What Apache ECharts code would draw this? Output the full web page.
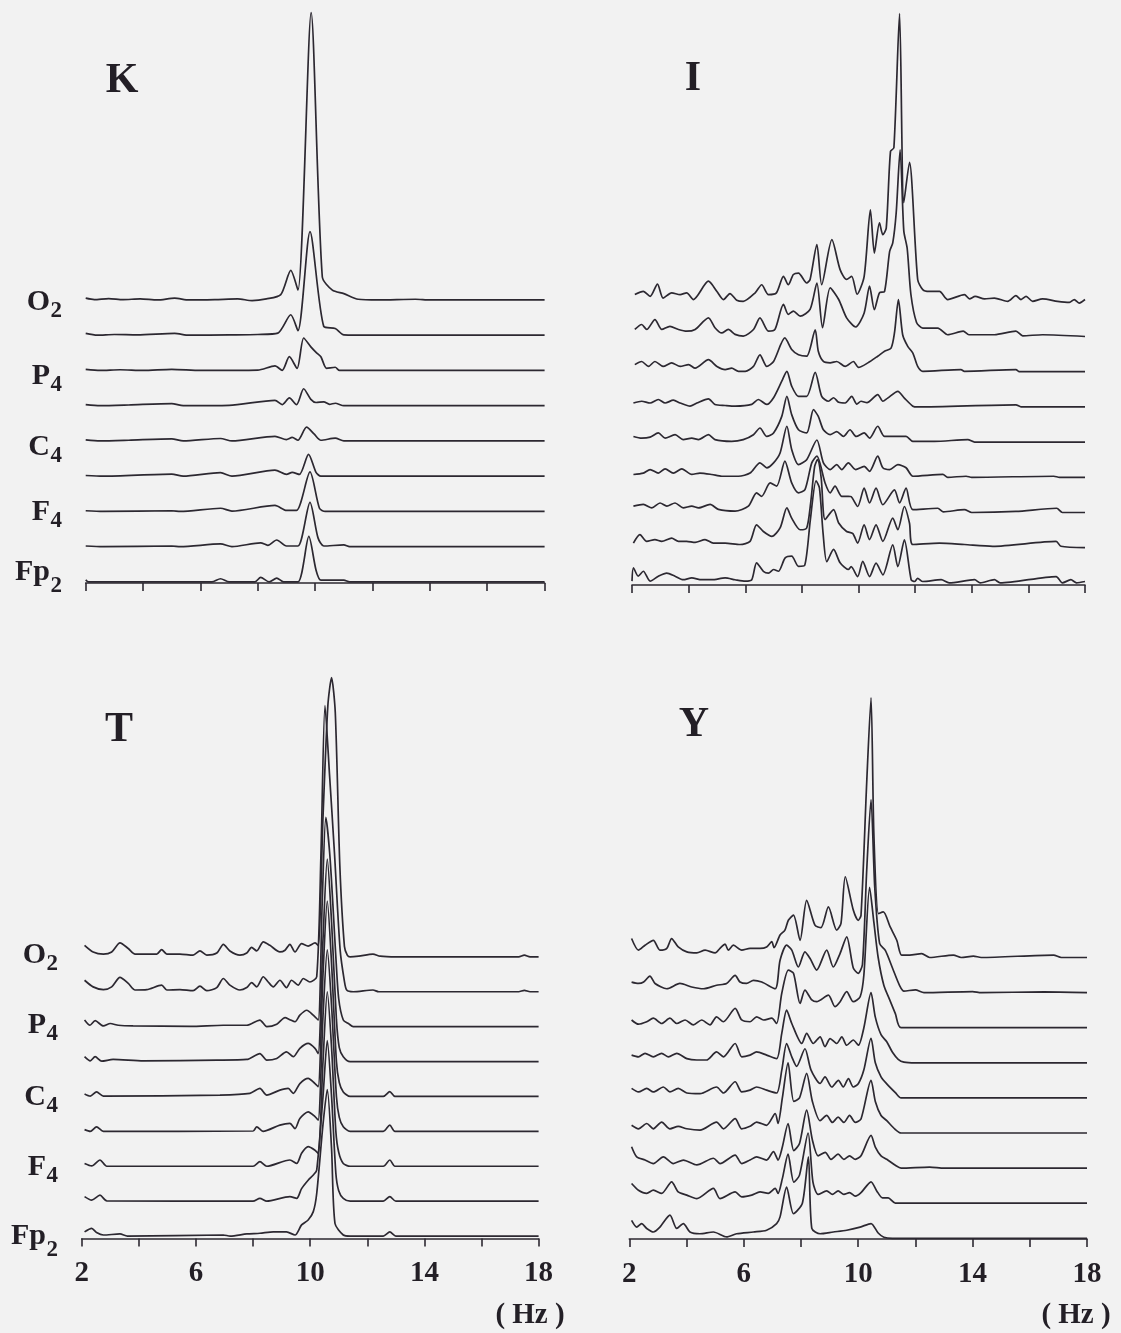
<!DOCTYPE html>
<html>
<head>
<meta charset="utf-8">
<script src="https://cdn.jsdelivr.net/npm/echarts/dist/echarts.min.js"></script>
<style>
  html, body { margin: 0; padding: 0; background: #f2f2f2; }
  #chart { width: 1121px; height: 1333px; }
</style>
</head>
<body>
<div id="chart"></div>
<script>
// Frequency axis (Hz)
const hzMin = 2, hzMax = 18, hzStep = 2;
const hzTickLabels = ['2', '6', '10', '14', '18'];
const hzUnit = '( Hz )';

// Panels (subjects) and electrode labels, top row of each stack first
const panelNames = ['K', 'I', 'T', 'Y'];
const channelMain = ['O', 'P', 'C', 'F', 'Fp'];
const channelSub = ['2', '4', '4', '4', '2'];
const rowGap = 10;            // power units between stacked baselines

// Power spectra: [frequency Hz, relative power]; row 0 = O2 ... row 8 = Fp2
// ---- subject K ----
const K0 = [[2,0.5],[2.3,0.1],[2.8,0.4],[3.3,0.1],[3.9,0.3],[4.5,0],[5.1,0.5],[5.6,0],[6.5,0.1],[7.3,0.3],[7.8,-0.2],[8.3,0.3],[8.8,1.5],[9.15,8.4],[9.4,2.8],[9.86,81.5],[10.25,6.5],[10.6,2.8],[11.0,1.8],[11.5,0.2],[12.2,0],[13.5,0.2],[14,0],[18,0]];
const K1 = [[2,0.5],[2.4,0],[3.0,0.2],[3.8,0.1],[5.1,0.5],[5.6,0],[7,0.1],[8,0.2],[8.7,0.6],[9.15,5.8],[9.4,1.3],[9.82,29.4],[10.3,2.5],[10.7,1.9],[11.0,0.1],[12,0],[18,0]];
const K2 = [[2,0.3],[2.5,0],[3.2,0.2],[4,0],[5,0.3],[6,0],[8,0.1],[8.6,1.3],[8.85,0],[9.1,3.9],[9.37,0.6],[9.6,9.2],[9.85,6.7],[10.05,5.0],[10.2,3.9],[10.4,0.6],[10.7,0.9],[10.85,0],[18,0]];
const K3 = [[2,0.3],[2.5,0],[3.5,0.2],[5.0,0.6],[5.4,0],[7,0.1],[8.6,1.5],[8.85,0.3],[9.1,2.2],[9.35,0.3],[9.6,4.8],[9.85,1.8],[10.03,0.9],[10.3,1.1],[10.5,0.4],[10.7,0.7],[11.0,0],[18,0]];
const K4 = [[2,0.3],[2.5,0],[3.5,0.2],[5.0,0.6],[5.4,0],[6.7,0.7],[7.1,0],[8.6,1.3],[9.0,0.4],[9.2,1.0],[9.4,0.2],[9.7,3.9],[9.97,1.9],[10.2,0.2],[10.7,0.8],[11.0,0],[18,0]];
const K5 = [[2,0.2],[2.6,0],[5.0,0.6],[5.4,0],[6.7,1.0],[7.1,0],[8.6,1.7],[9.0,0.5],[9.2,1.1],[9.45,0.5],[9.77,6.2],[10.03,1.1],[10.2,0],[18,0]];
const K6 = [[2,0.2],[2.6,0],[5,0.2],[5.3,0],[6.7,0.9],[7.1,0.1],[8.6,1.7],[9.0,0.3],[9.35,0.3],[9.82,11.2],[10.15,0.9],[10.35,0],[18,0]];
const K7 = [[2,0.2],[2.6,0],[5,0.2],[5.3,0],[6.7,0.8],[7.1,0],[8.1,1.1],[8.35,0.4],[8.66,1.9],[9.0,0.2],[9.4,0.2],[9.82,12.6],[10.1,2.5],[10.3,0.2],[11.0,0.5],[11.2,0],[18,0]];
const K8 = [[2,0.6],[2.1,0],[6.4,0],[6.7,0.9],[7.0,0],[7.9,0],[8.1,1.3],[8.4,0],[8.66,1.1],[8.9,0],[9.4,0],[9.78,12.9],[10.03,3.4],[10.2,0.5],[11.0,0.5],[11.2,0],[18,0]];

// ---- subject I ----
const I0 = [[2.1,1.9],[2.4,2.8],[2.64,1.4],[2.9,4.9],[3.1,0.9],[3.4,2.4],[3.7,1.9],[3.93,2.4],[4.17,0.5],[4.7,5.7],[5.0,2.8],[5.23,0.5],[5.46,2.2],[5.7,0.3],[5.93,0],[6.35,2.4],[6.58,4.7],[6.82,1.9],[7.1,2.4],[7.35,7.1],[7.52,4.7],[7.7,7.6],[7.88,8.0],[8.17,5.2],[8.29,6.2],[8.53,16.1],[8.7,4.7],[9.06,17.5],[9.35,9.0],[9.58,6.2],[9.76,7.1],[9.95,2.0],[10.2,7.1],[10.42,26],[10.56,13.7],[10.74,22.3],[10.86,18.9],[10.98,20.8],[11.13,42.6],[11.25,43.6],[11.45,81.7],[11.6,28],[11.8,39.5],[12.09,6.2],[12.27,3.3],[12.5,2.8],[12.86,2.8],[13.15,0.5],[13.74,1.9],[13.92,0.7],[14.12,1.4],[14.45,0.7],[14.8,0.9],[15.27,0],[15.56,1.6],[15.74,0.5],[15.92,1.4],[16.15,0],[16.5,0.7],[17.03,0],[17.45,-0.3],[17.62,0.5],[17.8,-0.5],[18,0.5]];
const I1 = [[2.1,2.0],[2.34,3.4],[2.52,2.0],[2.81,4.8],[3.05,2.0],[3.34,2.9],[3.64,2.0],[3.93,1.5],[4.23,2.0],[4.7,5.3],[4.93,2.5],[5.17,1.0],[5.4,2.0],[5.64,0.6],[5.93,0.1],[6.29,2.0],[6.52,5.3],[6.82,1.5],[7.05,2.0],[7.35,9.1],[7.52,6.3],[7.7,7.2],[7.94,5.8],[8.29,7.7],[8.53,15.2],[8.73,2.5],[9.0,13.8],[9.3,10.5],[9.58,5.3],[9.9,2.7],[10.2,6.7],[10.39,14.3],[10.56,7.6],[10.74,12.4],[10.92,12.8],[11.1,24.2],[11.21,26.6],[11.33,35],[11.47,53],[11.6,30],[11.72,25],[11.85,12],[12.05,4],[12.27,2.4],[12.8,2.4],[13.15,0.5],[13.7,1.5],[13.9,0.5],[14.8,0.5],[15.56,1.5],[15.8,0.2],[16.5,0.5],[18,0]];
const I2 = [[2.1,2.0],[2.34,2.9],[2.58,1.5],[2.81,2.9],[3.1,1.5],[3.4,2.5],[3.7,1.5],[4.0,2.0],[4.23,1.0],[4.7,3.4],[5.0,1.5],[5.29,0.6],[5.52,1.0],[5.76,0.1],[6.0,0.1],[6.29,1.5],[6.52,4.8],[6.76,1.5],[7.0,2.9],[7.4,9.6],[7.64,6.3],[7.88,4.8],[8.17,4.4],[8.47,11.9],[8.58,5.8],[8.76,2.9],[9.0,2.5],[9.23,2.9],[9.53,1.5],[9.82,2.9],[10.0,1.2],[10.33,2.5],[10.68,4.4],[10.92,5.8],[11.15,6.7],[11.27,11],[11.41,20.5],[11.56,10.5],[11.74,7.2],[11.92,5.3],[12.09,1.5],[12.27,0.1],[13.62,0.6],[13.74,0.1],[15.56,0.6],[15.68,0],[18,0]];
const I3 = [[2.05,1.1],[2.34,1.6],[2.64,1.1],[2.93,2.1],[3.17,1.1],[3.46,1.9],[3.7,1.1],[4.05,0.2],[4.29,1.1],[4.7,2.3],[4.93,0.7],[5.29,0.4],[5.64,0.2],[6.23,0.7],[6.46,2.1],[6.76,0.7],[7.0,2.6],[7.29,7.3],[7.47,10.1],[7.64,5.9],[7.88,3.0],[8.17,3.0],[8.47,9.8],[8.7,3.0],[8.94,1.6],[9.12,2.6],[9.3,1.3],[9.53,1.1],[9.76,3.0],[9.94,0.8],[10.09,1.6],[10.3,1.2],[10.68,3.5],[10.86,1.6],[11.03,2.5],[11.39,4.4],[11.62,2.5],[11.92,0.2],[12.09,0],[15.56,0.6],[15.74,0],[18,0]];
const I4 = [[2.05,1.6],[2.34,1.1],[2.64,1.4],[2.93,2.6],[3.17,1.1],[3.52,2.1],[3.81,0.7],[4.11,1.1],[4.35,0.7],[4.7,2.1],[4.93,0.7],[5.52,0.2],[5.93,0.7],[6.29,2.1],[6.52,4.0],[6.76,1.6],[7.0,2.6],[7.29,7.3],[7.47,13],[7.64,7.8],[7.88,3.5],[8.17,2.6],[8.41,9.2],[8.58,7.3],[8.76,3.5],[9.0,2.1],[9.23,3.0],[9.47,1.6],[9.7,3.5],[9.92,1.6],[10.2,2.6],[10.39,1.1],[10.68,4.5],[10.92,1.6],[11.27,1.6],[11.68,1.6],[11.92,0.2],[12.68,0.2],[13.86,0.7],[14.1,0],[18,0]];
const I5 = [[2.05,0.8],[2.4,1.2],[2.64,2.2],[2.93,1.2],[3.17,2.4],[3.46,1.2],[3.76,2.4],[4.11,0.8],[4.4,1.2],[4.82,0.8],[5.17,0.3],[5.76,0.3],[6.17,1.2],[6.52,4.1],[6.76,2.7],[7.0,4.1],[7.23,6.9],[7.47,14.5],[7.64,7.9],[7.88,3.6],[8.17,5.0],[8.53,10.6],[8.76,4.1],[9.0,2.2],[9.23,3.6],[9.41,2.2],[9.64,4.1],[9.9,2.2],[10.2,3.1],[10.39,1.7],[10.68,6.0],[10.86,2.7],[11.1,2.2],[11.39,3.6],[11.68,2.7],[11.92,0.3],[12.98,0.8],[13.15,0],[13.8,0.3],[14,0],[16.9,0.3],[17.1,0],[18,0]];
const I6 = [[2.05,1.8],[2.4,2.3],[2.7,1.3],[2.99,2.7],[3.23,1.8],[3.52,2.7],[3.81,1.3],[4.11,1.8],[4.35,1.3],[4.76,2.3],[5.05,0.9],[5.64,0.4],[6.11,1.8],[6.4,5.6],[6.58,4.6],[6.88,8.4],[7.11,7.5],[7.4,14.6],[7.64,8.4],[7.88,5.6],[8.11,6.5],[8.35,14.1],[8.53,16],[8.82,8.4],[9.0,5.6],[9.17,7.5],[9.41,4.6],[9.64,4.6],[9.74,4.5],[9.97,1.7],[10.2,6.9],[10.39,2.7],[10.62,6.9],[10.86,2.2],[11.27,6.4],[11.45,2.7],[11.68,6.9],[11.92,0.8],[12.8,1.2],[13.0,0.2],[13.74,0.8],[14,0],[15.56,0.3],[17.0,1.2],[17.2,0],[18,0]];
const I7 = [[2.05,1.3],[2.28,3.7],[2.52,1.8],[2.81,2.3],[3.05,1.8],[3.4,2.7],[3.64,1.8],[3.93,1.8],[4.23,1.5],[4.58,2.3],[4.87,1.3],[5.29,1.3],[5.82,0.9],[6.17,1.8],[6.4,6.5],[6.64,4.6],[6.94,3.2],[7.23,5.6],[7.47,11.3],[7.64,8.4],[7.94,5.1],[8.17,5.6],[8.3,12],[8.45,23],[8.55,25],[8.68,20],[8.82,8],[9.12,10.8],[9.3,7.0],[9.58,4.6],[9.8,4.0],[9.97,1.3],[10.2,6.5],[10.39,2.3],[10.62,6.5],[10.86,1.8],[11.21,8.4],[11.39,5.1],[11.62,11.7],[11.8,7.0],[11.92,0.9],[12.86,1.3],[13.74,0.9],[14.74,0.4],[16.98,1.8],[17.15,0.4],[18,0]];
const I8 = [[2.0,0.5],[2.05,4.3],[2.22,1.9],[2.4,3.3],[2.64,0.5],[2.93,1.9],[3.23,2.8],[3.52,1.9],[3.81,0.9],[4.11,1.4],[4.46,0.9],[4.82,0.9],[5.29,1.4],[5.64,0.9],[6.0,0.5],[6.23,0.9],[6.4,5.7],[6.64,3.3],[6.82,2.8],[7.0,3.8],[7.17,3.3],[7.41,7.1],[7.64,7.6],[7.88,4.7],[8.1,5],[8.3,18],[8.5,29],[8.62,27],[8.75,14],[8.88,6],[9.12,9.5],[9.35,5.7],[9.64,3.8],[9.74,4.6],[9.97,1.8],[10.15,6.1],[10.39,1.8],[10.62,5.6],[10.86,2.3],[11.21,10.8],[11.39,4.6],[11.62,12.2],[11.86,0.9],[11.98,0.4],[12.09,1.3],[12.27,0.4],[12.92,0.9],[13.2,0],[14.1,0.9],[14.3,0],[14.8,0.9],[15,0],[16.98,1.8],[17.2,0],[17.5,0.9],[17.7,0],[18,0.4]];

// ---- subject T ----
const T0 = [[2.1,3.3],[2.4,1.4],[2.76,0.8],[3.05,1.4],[3.34,4.0],[3.63,2.4],[3.87,0.8],[4.28,0.8],[4.63,0.8],[4.8,2.1],[4.98,0.8],[5.44,0.8],[5.9,0.5],[6.14,1.7],[6.38,0.5],[6.73,1.1],[6.96,3.6],[7.19,1.7],[7.54,0.5],[7.78,1.1],[7.95,2.7],[8.13,1.7],[8.36,4.3],[8.59,3.3],[8.94,1.4],[9.12,1.9],[9.29,3.6],[9.47,1.4],[9.7,3.8],[9.93,3.1],[10.17,4.0],[10.28,3.3],[10.45,40],[10.62,72],[10.75,80],[10.88,70],[11.04,26],[11.2,3],[11.3,0.5],[11.4,0],[11.7,0.2],[12.2,0.8],[12.45,0.2],[13,0],[17.3,0],[17.5,0.5],[17.7,0],[18,0]];
const T1 = [[2.1,3.3],[2.4,1.4],[2.76,0.6],[3.05,1.4],[3.34,4.1],[3.63,2.4],[3.87,0.5],[4.28,0.6],[4.8,1.9],[4.98,0.5],[5.44,0.6],[5.9,0.3],[6.14,1.6],[6.38,0.3],[6.73,1.2],[6.96,3.8],[7.19,1.9],[7.54,0.5],[7.78,1.2],[7.95,2.6],[8.13,1.4],[8.36,4.3],[8.53,2.8],[8.71,1.4],[8.94,3.3],[9.17,1.2],[9.35,3.3],[9.58,1.9],[9.76,3.8],[9.99,2.8],[10.23,4.3],[10.38,40],[10.52,82],[10.68,62],[10.85,40],[11.05,12],[11.2,3],[11.28,0.5],[11.51,0],[12.2,0.5],[12.4,0],[17.3,0],[17.5,0.4],[17.7,0],[18,0]];
const T2 = [[2.1,1.9],[2.29,0.4],[2.47,1.7],[2.76,0.2],[3.0,0.9],[3.28,0.4],[3.8,0.2],[5.8,0.1],[6.96,0.4],[7.78,0.4],[8.24,1.9],[8.48,0],[8.83,0.7],[9.12,2.6],[9.29,2.0],[9.47,1.4],[9.64,3.3],[9.88,4.7],[10.11,3.3],[10.28,1.9],[10.42,35],[10.55,60],[10.7,48],[10.9,20],[11.0,8],[11.16,1.9],[11.34,0.9],[11.51,0],[18,0]];
const T3 = [[2.1,1.4],[2.3,0.2],[2.47,1.4],[2.7,0.1],[3.1,0.6],[4.16,0.2],[6.73,0.4],[7.78,0.6],[8.24,2.3],[8.48,0.4],[8.83,0.9],[9.17,2.8],[9.41,1.4],[9.64,3.8],[9.93,5.2],[10.17,3.8],[10.28,2.3],[10.45,35],[10.6,58],[10.75,40],[10.92,12],[11.02,4],[11.16,1.4],[11.4,0],[18,0]];
const T4 = [[2.1,0.7],[2.3,0.1],[2.52,1.3],[2.76,0.1],[6.84,0.4],[7.89,0.9],[8.24,2.3],[8.48,0.4],[8.94,1.8],[9.23,2.3],[9.41,0.9],[9.64,3.7],[9.93,5.2],[10.17,3.7],[10.28,2.8],[10.45,35],[10.6,56],[10.75,38],[10.92,10],[11.02,4],[11.16,1.3],[11.4,0],[12.56,0],[12.79,1.4],[12.97,0],[18,0]];
const T5 = [[2.1,0.5],[2.3,0],[2.52,1.3],[2.76,0],[8.0,0.1],[8.13,1.3],[8.35,0],[8.94,1.8],[9.29,2.3],[9.47,0.8],[9.64,3.7],[9.93,5.6],[10.17,4.2],[10.28,3.2],[10.45,33],[10.6,52],[10.75,36],[10.92,10],[11.02,4],[11.16,1.3],[11.4,0],[12.56,0],[12.79,1.8],[12.97,0],[18,0]];
const T6 = [[2.1,0.8],[2.35,0.1],[2.64,1.8],[2.88,0],[8.0,0],[8.24,1.3],[8.48,0],[9.29,1.8],[9.53,0.8],[9.7,3.7],[9.93,5.6],[10.17,4.6],[10.28,3.7],[10.45,30],[10.6,50],[10.75,34],[10.9,10],[11.0,4],[11.16,0.8],[11.4,0],[12.56,0],[12.79,1.8],[12.97,0],[18,0]];
const T7 = [[2.1,1.3],[2.35,0.3],[2.64,1.7],[2.88,0.1],[8.0,0],[8.24,0.8],[8.48,0],[9.29,1.3],[9.53,0.8],[9.7,3.6],[9.93,6.0],[10.11,7.5],[10.23,8.9],[10.45,30],[10.6,46],[10.75,30],[10.9,8],[11.0,3],[11.16,0.8],[11.4,0],[12.56,0],[12.79,1.3],[13.0,0],[18,0]];
const T8 = [[2.1,1.2],[2.35,2.2],[2.52,1.0],[2.76,0.3],[3.34,0.6],[3.6,0],[6.96,0.3],[7.2,0],[7.78,0.6],[8.24,0.8],[8.71,1.2],[9.17,1.2],[9.47,0.3],[9.7,3.2],[9.93,4.6],[10.11,7.0],[10.23,12.2],[10.45,32],[10.6,42],[10.75,25],[10.87,3.6],[11.16,0.3],[11.4,0],[12.56,0],[12.79,1.2],[13.0,0],[18,0]];

// ---- subject Y ----
const Y0 = [[2.08,5.4],[2.32,2.1],[2.55,3.5],[2.84,4.9],[3.07,2.1],[3.31,2.6],[3.48,5.4],[3.71,3.0],[4.01,1.6],[4.36,1.3],[4.65,2.1],[5.0,1.3],[5.17,2.6],[5.35,3.8],[5.46,2.1],[5.64,3.5],[5.93,2.1],[6.22,2.6],[6.57,2.6],[6.8,3.0],[6.98,4.5],[7.06,2.8],[7.27,6.4],[7.44,7.8],[7.56,10.6],[7.74,12.1],[7.97,4.9],[8.2,16.3],[8.49,9.2],[8.7,8.5],[8.96,14.4],[9.25,7.8],[9.4,9.7],[9.55,23],[9.83,13.5],[10.0,10.6],[10.1,12],[10.3,50],[10.45,74],[10.55,35],[10.71,12.5],[10.88,13],[11.12,8.7],[11.35,4.9],[11.52,0.7],[11.8,0.7],[12.22,1.1],[12.5,0],[13.33,0.7],[13.6,0],[14.03,0.4],[14.3,0],[16.83,0.7],[17.1,0],[18,0]];
const Y1 = [[2.08,3.0],[2.32,2.6],[2.5,3.0],[2.72,4.7],[2.9,2.6],[3.31,1.1],[3.77,2.6],[4.18,1.6],[4.59,1.1],[5.05,2.1],[5.4,2.6],[5.7,4.9],[5.87,3.0],[6.1,2.6],[6.34,3.5],[6.63,3.0],[7.1,1.1],[7.27,9.2],[7.5,13.5],[7.68,12.1],[7.91,7.3],[8.14,11.6],[8.32,9.7],[8.55,6.4],[8.9,12.1],[9.13,7.3],[9.37,11.2],[9.6,15.9],[9.83,7],[10.0,5.5],[10.15,8],[10.3,35],[10.45,55],[10.58,30],[10.75,14],[10.95,12],[11.2,7],[11.45,2],[11.6,0.4],[12.0,0.8],[12.3,0],[14,0.3],[14.3,0],[16.5,0.2],[18,0]];
const Y2 = [[2.08,2.2],[2.32,1.0],[2.61,1.7],[2.84,2.7],[3.13,1.2],[3.42,2.7],[3.66,1.2],[3.95,2.2],[4.24,0.8],[4.53,2.2],[4.82,0.8],[5.05,3.1],[5.29,1.7],[5.7,5.5],[5.93,2.2],[6.22,1.7],[6.45,3.1],[6.69,2.2],[6.98,2.7],[7.15,1.2],[7.33,9.8],[7.56,16.4],[7.74,15.5],[7.97,6.9],[8.14,10.7],[8.38,7.9],[8.55,7.4],[8.96,9.3],[9.19,6.0],[9.37,7.4],[9.6,10.3],[9.83,7.4],[10.07,8.8],[10.2,15],[10.4,40],[10.55,30],[10.7,20],[10.9,12],[11.1,8],[11.3,4],[11.5,0],[18,0]];
const Y3 = [[2.08,2.2],[2.32,1.7],[2.55,2.7],[2.84,1.7],[3.13,2.7],[3.37,1.7],[3.66,2.7],[4.01,1.2],[4.36,0.8],[4.7,0.8],[5.05,3.1],[5.29,1.7],[5.7,5.5],[5.93,1.7],[6.22,2.2],[6.45,3.1],[6.8,2.2],[7.15,1.2],[7.33,8.4],[7.5,15],[7.68,11.2],[8.03,5.5],[8.2,8.4],[8.43,5.5],[8.67,7.4],[8.84,4.6],[9.02,6.9],[9.25,5.5],[9.43,7.4],[9.6,5.0],[9.83,6.5],[10.01,5.0],[10.2,10],[10.45,20],[10.6,13],[10.8,8],[11.0,6],[11.2,3],[11.4,1],[11.6,0.2],[12.0,0],[18,0]];
const Y4 = [[2.08,2.7],[2.32,1.7],[2.61,2.7],[2.84,1.7],[3.19,3.1],[3.42,1.7],[3.71,2.7],[4.01,1.4],[4.47,1.2],[5.05,3.1],[5.29,1.4],[5.7,4.6],[5.93,1.7],[6.22,2.2],[6.45,3.1],[6.8,2.2],[7.15,1.4],[7.33,7.9],[7.5,15.5],[7.68,11.7],[7.85,9],[8.14,14],[8.35,8],[8.67,4.1],[8.84,6.0],[9.08,3.1],[9.31,5.0],[9.48,3.1],[9.66,5.5],[9.83,3.1],[10.01,4.1],[10.2,8],[10.45,17],[10.6,10],[10.8,6],[11.0,4],[11.3,1.5],[11.5,0],[18,0]];
const Y5 = [[2.08,2.2],[2.32,1.2],[2.61,2.7],[2.84,1.2],[3.13,3.1],[3.42,1.2],[3.71,1.9],[4.01,1.2],[4.47,0.8],[5.05,3.1],[5.29,1.2],[5.7,4.1],[5.93,1.2],[6.22,1.9],[6.45,3.1],[6.8,2.2],[7.1,5.5],[7.2,2.7],[7.35,10],[7.55,20],[7.75,9],[7.95,10],[8.2,17],[8.4,9],[8.67,3.5],[8.9,5],[9.1,3],[9.3,4.5],[9.5,3],[9.7,5],[9.9,3],[10.1,4],[10.45,15],[10.6,9],[10.8,5],[11.0,3.5],[11.3,1],[11.5,0],[18,0]];
const Y6 = [[2.08,6.1],[2.26,3.2],[2.55,2.3],[2.84,1.3],[3.19,3.2],[3.54,1.3],[3.89,2.3],[4.36,0.9],[4.94,2.8],[5.17,1.3],[5.7,3.7],[5.93,1.3],[6.22,2.3],[6.45,3.2],[6.8,2.3],[7.04,4.7],[7.2,2.3],[7.35,6],[7.55,12.7],[7.75,5],[7.95,7],[8.2,16.5],[8.4,8],[8.6,3.5],[8.85,4.5],[9.05,2.5],[9.3,4],[9.5,2.5],[9.7,3.5],[9.9,2.5],[10.1,3.5],[10.45,9.3],[10.6,6],[10.8,3.5],[11.0,2.5],[11.3,0.8],[11.5,0],[12.5,0.3],[13,0],[18,0]];
const Y7 = [[2.08,5.6],[2.32,3.7],[2.61,2.8],[2.84,3.7],[3.13,2.8],[3.48,6.1],[3.71,3.2],[4.01,2.3],[4.36,1.3],[4.94,4.2],[5.17,1.3],[5.7,3.2],[5.93,1.8],[6.28,2.3],[6.57,3.2],[6.86,2.8],[7.1,4.2],[7.2,2.8],[7.35,7],[7.55,14],[7.75,6],[7.95,8],[8.25,20],[8.42,6],[8.6,2.5],[8.9,3.5],[9.1,2.5],[9.3,3.5],[9.5,2.5],[9.7,3],[9.9,2],[10.1,3],[10.45,6.1],[10.65,3.5],[10.85,1.5],[11.05,1.5],[11.3,0],[18,0]];
const Y8 = [[2.08,5.1],[2.26,3.2],[2.43,4.2],[2.61,2.8],[2.84,1.8],[3.07,3.2],[3.42,6.6],[3.66,2.8],[3.89,4.2],[4.12,1.8],[4.47,1.3],[4.94,1.8],[5.4,0.4],[5.75,1.3],[6.34,1.8],[6.8,2.3],[7.15,4.2],[7.27,6.1],[7.5,14.6],[7.74,7.0],[8.05,10],[8.26,23.2],[8.38,2.8],[8.67,1.3],[9.13,1.8],[9.6,2.3],[10.07,3.2],[10.45,4.2],[10.7,1.5],[10.9,0.3],[11.2,0],[18,0]];

const stacks = {
  K: [K0, K1, K2, K3, K4, K5, K6, K7, K8],
  I: [I0, I1, I2, I3, I4, I5, I6, I7, I8],
  T: [T0, T1, T2, T3, T4, T5, T6, T7, T8],
  Y: [Y0, Y1, Y2, Y3, Y4, Y5, Y6, Y7, Y8]
};

// Page layout of the four panels (pixels)
const layout = {
  K: { x0: 85.7, x1: 544.6, axisY: 583,    ppu: 3.525, yMin: -0.3, ticks: false, letter: [122, 81],  chanX: 50, chanY: [302.5, 376, 447.5, 512.5, 572] },
  I: { x0: 632,  x1: 1085,  axisY: 585,    ppu: 3.52,  yMin: -0.6, ticks: false, letter: [693, 79],  chanX: null },
  T: { x0: 81.7, x1: 538.6, axisY: 1238.5, ppu: 3.49,  yMin: -0.7, ticks: true,  letter: [119, 730], chanX: 46, chanY: [955, 1025.5, 1097.5, 1167, 1236], unit: [530, 1316] },
  Y: { x0: 629.3, x1: 1087, axisY: 1239,   ppu: 3.51,  yMin: -0.2, ticks: true,  letter: [694, 725], chanX: null, unit: [1076, 1316] }
};
const yMax = 165;
const ink = '#2c2831';
const textInk = '#231f26';
const serif = "'Times New Roman', 'Liberation Serif', 'DejaVu Serif', serif";

const chart = echarts.init(document.getElementById('chart'), null, { renderer: 'canvas' });

const grid = [], xAxis = [], yAxis = [], series = [], graphic = [];

panelNames.forEach((name, p) => {
  const L = layout[name];
  const h = (yMax - L.yMin) * L.ppu;
  grid.push({ left: L.x0, width: L.x1 - L.x0, top: L.axisY - h, height: h, containLabel: false });
  xAxis.push({
    type: 'value', gridIndex: p, min: hzMin, max: hzMax, interval: hzStep,
    axisLine: { show: true, onZero: false, lineStyle: { color: ink, width: 1.6 } },
    axisTick: { show: true, length: 8, lineStyle: { color: ink, width: 1.6 } },
    splitLine: { show: false },
    axisLabel: {
      show: L.ticks, margin: 21, color: textInk,
      fontFamily: serif, fontWeight: 'bold', fontSize: 29,
      formatter: v => (hzTickLabels.includes(String(v)) ? String(v) : '')
    }
  });
  yAxis.push({ type: 'value', gridIndex: p, min: L.yMin, max: yMax, show: false });

  stacks[name].forEach((pts, r) => {
    const lift = (8 - r) * rowGap;
    series.push({
      type: 'line', xAxisIndex: p, yAxisIndex: p,
      data: pts.map(([f, a]) => [f, a + lift]),
      showSymbol: false, smooth: 0.25, clip: false, silent: true,
      lineStyle: { color: ink, width: 1.7 }
    });
  });

  // subject letter
  graphic.push({
    type: 'text', x: L.letter[0], y: L.letter[1],
    style: { text: name, fill: textInk, font: `bold 42px ${serif}`,
             textAlign: 'center', textVerticalAlign: 'middle', align: 'center', verticalAlign: 'middle' }
  });

  // electrode labels (left column only)
  if (L.chanX !== null) {
    channelMain.forEach((m, k) => {
      const cy = L.chanY[k];
      const subDy = (k === 4) ? 14 : 9;
      graphic.push({
        type: 'text', x: L.chanX, y: cy,
        style: { text: m, fill: textInk, font: `bold 30px ${serif}`,
                 textAlign: 'right', textVerticalAlign: 'middle', align: 'right', verticalAlign: 'middle' }
      });
      graphic.push({
        type: 'text', x: L.chanX + 0.5, y: cy + subDy,
        style: { text: channelSub[k], fill: textInk, font: `bold 23px ${serif}`,
                 textAlign: 'left', textVerticalAlign: 'middle', align: 'left', verticalAlign: 'middle' }
      });
    });
  }

  if (L.unit) {
    graphic.push({
      type: 'text', x: L.unit[0], y: L.unit[1],
      style: { text: hzUnit, fill: textInk, font: `bold 29px ${serif}`,
               textAlign: 'center', textVerticalAlign: 'middle', align: 'center', verticalAlign: 'middle' }
    });
  }
});

chart.setOption({
  backgroundColor: '#f2f2f2',
  animation: false,
  grid, xAxis, yAxis, series, graphic
});
</script>
</body>
</html>
